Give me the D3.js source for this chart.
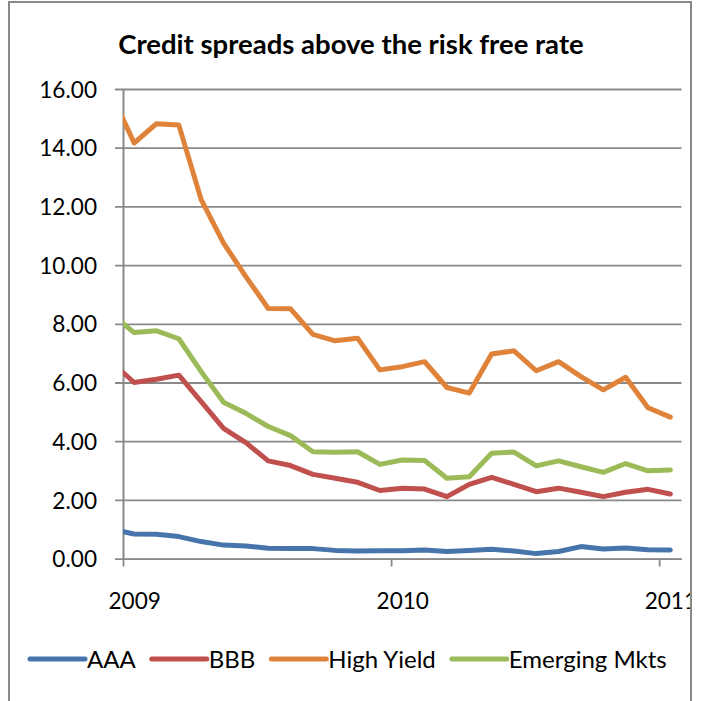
<!DOCTYPE html>
<html>
<head>
<meta charset="utf-8">
<script src="https://cdn.jsdelivr.net/npm/d3@7"></script>
<style>
  html, body { margin: 0; padding: 0; background: #ffffff; }
  svg { display: block; }
  text { font-family: Lato, "Open Sans", sans-serif; fill: #000; }
</style>
</head>
<body>
<svg id="chart" width="702" height="701"></svg>
<script>
// Monthly observations (Dec 2008 – Jan 2011), spread in percentage points
const months = ["2008-12","2009-01","2009-02","2009-03","2009-04","2009-05","2009-06",
  "2009-07","2009-08","2009-09","2009-10","2009-11","2009-12","2010-01","2010-02",
  "2010-03","2010-04","2010-05","2010-06","2010-07","2010-08","2010-09","2010-10",
  "2010-11","2010-12","2011-01"];

const aaa = [1.00,0.84,0.83,0.75,0.58,0.46,0.43,0.35,0.34,0.34,0.28,0.26,0.27,
  0.27,0.29,0.24,0.28,0.32,0.26,0.17,0.24,0.41,0.33,0.36,0.30,0.29];
const bbb = [6.68,6.00,6.11,6.25,5.35,4.44,3.95,3.33,3.17,2.87,2.74,2.60,2.32,
  2.40,2.37,2.11,2.53,2.77,2.53,2.28,2.40,2.26,2.11,2.26,2.36,2.20];
const highYield = [15.80,14.16,14.82,14.77,12.23,10.75,9.61,8.52,8.51,7.64,7.42,7.51,6.43,
  6.54,6.71,5.83,5.64,6.97,7.08,6.40,6.71,6.20,5.75,6.18,5.14,4.82];
const emerging = [8.32,7.70,7.76,7.49,6.37,5.33,4.95,4.50,4.19,3.64,3.62,3.64,3.21,
  3.36,3.34,2.74,2.79,3.59,3.63,3.16,3.33,3.13,2.94,3.24,2.99,3.02];

const seriesNames = ["AAA","BBB","High Yield","Emerging Mkts"];
const seriesColors = ["#4674AB","#C0504D","#E0833A","#9BBB59"];
const yTicks = [0,2,4,6,8,10,12,14,16];
const xTickLabels = ["2009","2010","2011"];
const title = "Credit spreads above the risk free rate";

const series = [aaa, bbb, highYield, emerging].map((vals, i) => ({
  name: seriesNames[i], color: seriesColors[i], values: vals
}));

// month index relative to Jan 2009; each month is one equal-width slot
const monthIndex = s => { const [y, m] = s.split("-").map(Number); return (y - 2009) * 12 + (m - 1); };

const svg = d3.select("#chart");
const plot = { left: 123, right: 681.5, top: 89, bottom: 558.6 };

const x = d3.scaleLinear().domain([0, 25]).range([plot.left, plot.right]);
const y = d3.scaleLinear().domain([0, 16]).range([plot.bottom, plot.top]);

const grey = "#898989";

// outer chart frame
svg.append("rect").attr("x", 9).attr("y", 2).attr("width", 682).attr("height", 730)
  .attr("fill", "none").attr("stroke", grey).attr("stroke-width", 2);

// title
svg.append("text").attr("x", 351).attr("y", 54).attr("text-anchor", "middle")
  .attr("font-weight", "bold").attr("font-size", 27.5).text(title);

// horizontal gridlines + y axis
const yAxis = d3.axisLeft(y).tickValues(yTicks).tickSize(-(plot.right - plot.left))
  .tickSizeOuter(0).tickFormat(d3.format(".2f")).tickPadding(26);
const gy = svg.append("g").attr("transform", `translate(${plot.left},0)`).call(yAxis);
gy.select(".domain").attr("stroke", grey).attr("stroke-width", 2);
gy.selectAll(".tick line").attr("stroke", grey).attr("stroke-width", 1.8)
  .attr("x1", -8);
gy.selectAll(".tick text").attr("font-size", 22.6).attr("font-family", "Lato")
  .attr("fill", "#000").attr("dy", "0.36em");

// x axis: yearly ticks, labels centred on the first month of each year
const xTicks = xTickLabels.map(t => monthIndex(t + "-01"));
const xAxis = d3.axisBottom(x).tickValues(xTicks).tickSize(8).tickSizeOuter(0)
  .tickFormat((d, i) => xTickLabels[i]);
const gx = svg.append("g").attr("transform", `translate(0,${plot.bottom})`).call(xAxis);
gx.select(".domain").attr("stroke", grey).attr("stroke-width", 2);
gx.selectAll(".tick line").attr("stroke", grey).attr("stroke-width", 1.8);
gx.selectAll(".tick text").attr("font-size", 22.6).attr("font-family", "Lato")
  .attr("fill", "#000").attr("x", x(0.5) - x(0)).attr("y", 0).attr("dy", 50.5);

// clip the last year label at the frame edge
svg.append("clipPath").attr("id", "frameClip").append("rect")
  .attr("x", 0).attr("y", 0).attr("width", 690).attr("height", 701);
gx.attr("clip-path", "url(#frameClip)");

// series lines, clipped to the plot area
svg.append("clipPath").attr("id", "plotClip").append("rect")
  .attr("x", plot.left).attr("y", 0).attr("width", plot.right - plot.left).attr("height", 701);

const line = d3.line()
  .x((d, i) => x(monthIndex(months[i]) + 0.5))
  .y(d => y(d));

svg.append("g").attr("clip-path", "url(#plotClip)")
  .selectAll("path").data(series).join("path")
  .attr("d", s => line(s.values))
  .attr("fill", "none").attr("stroke", s => s.color).attr("stroke-width", 5)
  .attr("stroke-linejoin", "round").attr("stroke-linecap", "round");

// legend
const legend = svg.append("g").attr("transform", "translate(0,659)");
let lx = 30;
series.forEach(s => {
  legend.append("line").attr("x1", lx).attr("x2", lx + 55).attr("y1", 0).attr("y2", 0)
    .attr("stroke", s.color).attr("stroke-width", 5).attr("stroke-linecap", "round");
  const t = legend.append("text").attr("x", lx + 57).attr("y", 0).attr("dy", "0.36em")
    .attr("font-size", 24).text(s.name);
  lx += 57 + t.node().getComputedTextLength() + 16;
});
</script>
</body>
</html>
